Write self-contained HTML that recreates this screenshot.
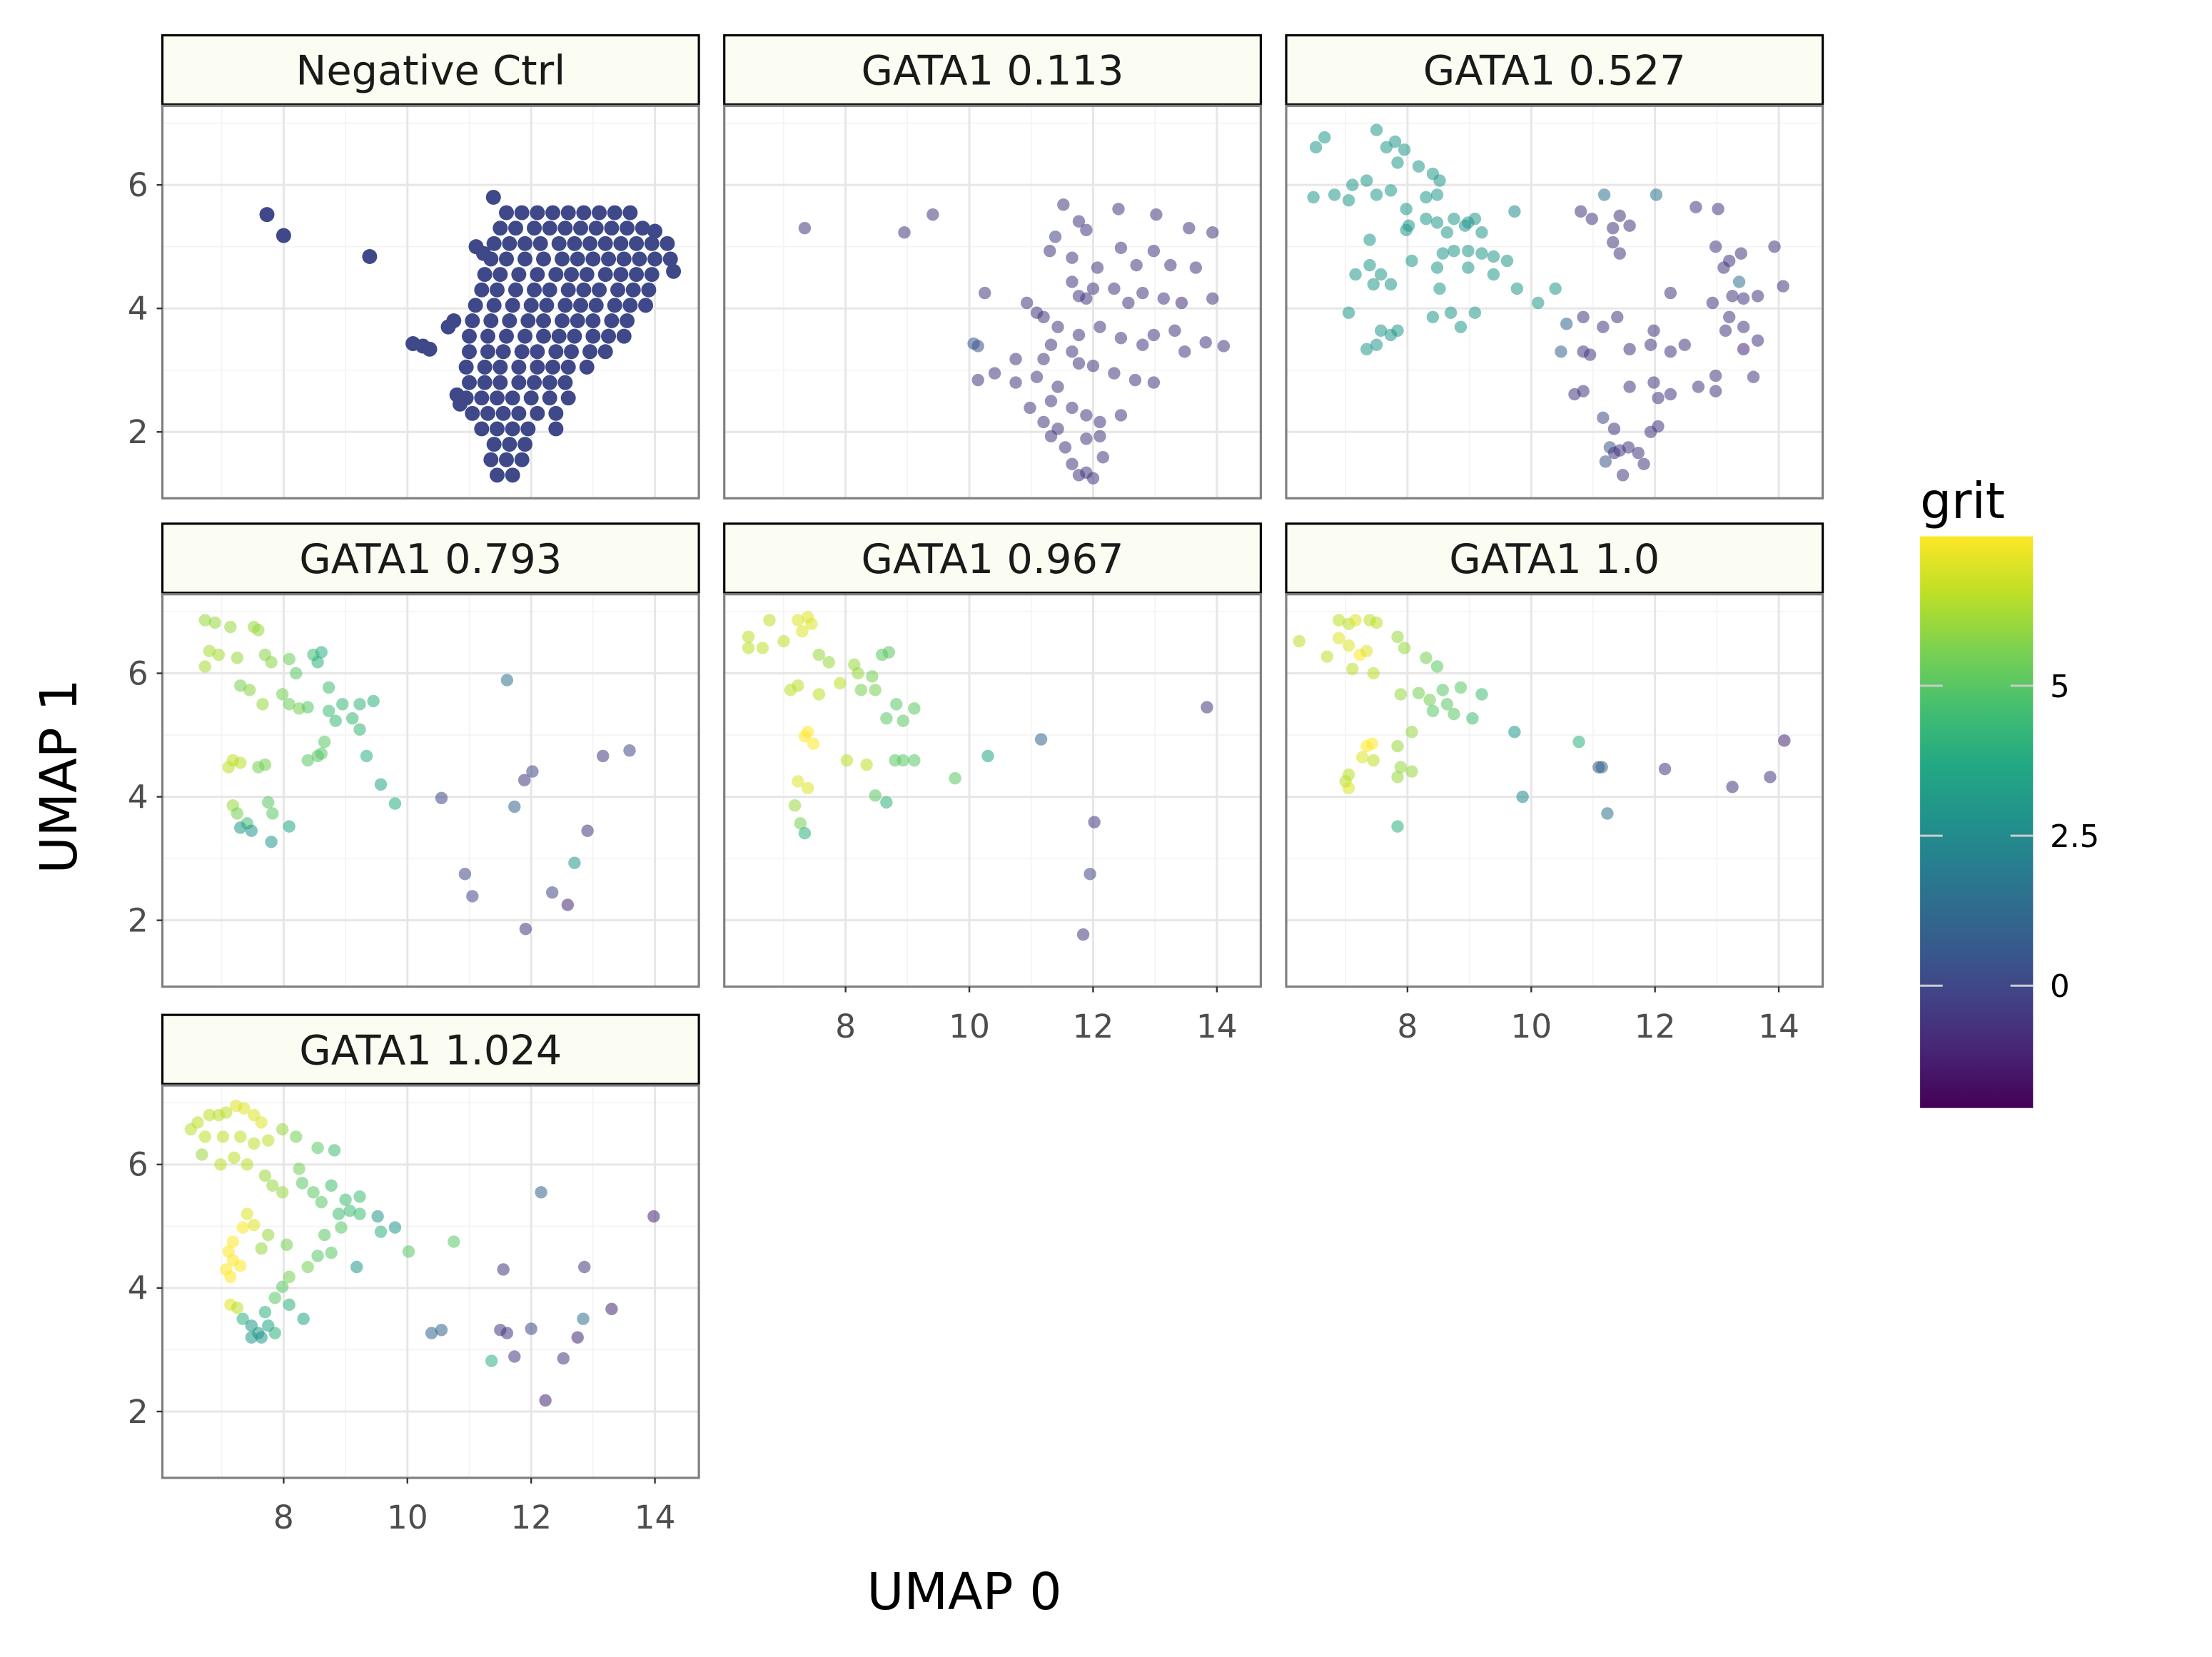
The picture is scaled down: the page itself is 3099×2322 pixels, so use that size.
<!DOCTYPE html>
<html><head><meta charset="utf-8"><style>
html,body{margin:0;padding:0;background:#fff}
svg{display:block;font-family:"DejaVu Sans","Liberation Sans",sans-serif}
</style></head><body>
<svg id="chart" width="3099" height="2322" xmlns="http://www.w3.org/2000/svg">
<defs>
<linearGradient id="vir" x1="0" y1="1" x2="0" y2="0">
<stop offset="0" stop-color="#440154"/><stop offset="0.1" stop-color="#482475"/><stop offset="0.2" stop-color="#414487"/><stop offset="0.3" stop-color="#355f8d"/><stop offset="0.4" stop-color="#2a788e"/><stop offset="0.5" stop-color="#21918c"/><stop offset="0.6" stop-color="#22a884"/><stop offset="0.7" stop-color="#44bf70"/><stop offset="0.8" stop-color="#7ad151"/><stop offset="0.9" stop-color="#bddf26"/><stop offset="1" stop-color="#fde725"/>
</linearGradient>
</defs>
<g id="panels"></g>
<g id="static"></g>
</svg>
<script>
const panelTitles = ["Negative Ctrl","GATA1 0.113","GATA1 0.527","GATA1 0.793","GATA1 0.967","GATA1 1.0","GATA1 1.024"];
const xTicks = [8,10,12,14];
const yTicks = [2,4,6];
const gritTicks = [0,2.5,5];
const gritTickLabels = ["0","2.5","5"];

const negCtrl = [[7.73,5.52,0],[8.00,5.18,0],[9.39,4.84,0],[10.09,3.43,0],[10.25,3.39,0],[10.36,3.34,0],[10.66,3.70,0],[10.75,3.80,0],[11.39,5.80,0],[11.11,5.00,0],[11.23,4.89,0],
[11.6,5.55,0],[11.85,5.55,0],[12.1,5.55,0],[12.35,5.55,0],[12.6,5.55,0],[12.85,5.55,0],[13.1,5.55,0],[13.35,5.55,0],[13.6,5.55,0],
[11.5,5.3,0],[11.75,5.3,0],[12.05,5.3,0],[12.3,5.3,0],[12.55,5.3,0],[12.8,5.3,0],[13.05,5.3,0],[13.3,5.3,0],[13.55,5.3,0],[13.8,5.3,0],[14.0,5.25,0],
[11.4,5.05,0],[11.65,5.05,0],[11.9,5.05,0],[12.15,5.05,0],[12.45,5.05,0],[12.7,5.05,0],[12.95,5.05,0],[13.2,5.05,0],[13.45,5.05,0],[13.7,5.05,0],[13.95,5.05,0],[14.2,5.05,0],
[11.35,4.8,0],[11.6,4.8,0],[11.9,4.8,0],[12.2,4.8,0],[12.5,4.8,0],[12.75,4.8,0],[13.0,4.8,0],[13.25,4.8,0],[13.5,4.8,0],[13.75,4.8,0],[14.0,4.8,0],[14.25,4.8,0],
[11.25,4.55,0],[11.5,4.55,0],[11.8,4.55,0],[12.1,4.55,0],[12.4,4.55,0],[12.65,4.55,0],[12.9,4.55,0],[13.2,4.55,0],[13.45,4.55,0],[13.7,4.55,0],[13.95,4.55,0],[14.3,4.6,0],
[11.2,4.3,0],[11.45,4.3,0],[11.75,4.3,0],[12.05,4.3,0],[12.3,4.3,0],[12.6,4.3,0],[12.85,4.3,0],[13.1,4.3,0],[13.4,4.3,0],[13.65,4.3,0],[13.9,4.3,0],
[11.1,4.05,0],[11.4,4.05,0],[11.7,4.05,0],[12.0,4.05,0],[12.25,4.05,0],[12.55,4.05,0],[12.8,4.05,0],[13.05,4.05,0],[13.35,4.05,0],[13.6,4.05,0],[13.85,4.05,0],
[11.05,3.8,0],[11.35,3.8,0],[11.65,3.8,0],[11.95,3.8,0],[12.2,3.8,0],[12.5,3.8,0],[12.75,3.8,0],[13.0,3.8,0],[13.3,3.8,0],[13.55,3.8,0],
[11.0,3.55,0],[11.3,3.55,0],[11.6,3.55,0],[11.9,3.55,0],[12.2,3.55,0],[12.45,3.55,0],[12.7,3.55,0],[13.0,3.55,0],[13.25,3.55,0],[13.5,3.55,0],
[11.0,3.3,0],[11.3,3.3,0],[11.55,3.3,0],[11.85,3.3,0],[12.1,3.3,0],[12.4,3.3,0],[12.65,3.3,0],[12.95,3.3,0],[13.2,3.3,0],
[10.95,3.05,0],[11.25,3.05,0],[11.5,3.05,0],[11.8,3.05,0],[12.1,3.05,0],[12.35,3.05,0],[12.6,3.05,0],[12.9,3.05,0],
[11.0,2.8,0],[11.25,2.8,0],[11.5,2.8,0],[11.8,2.8,0],[12.05,2.8,0],[12.3,2.8,0],[12.55,2.8,0],
[10.8,2.6,0],[10.95,2.55,0],[11.2,2.55,0],[11.45,2.55,0],[11.7,2.55,0],[12.0,2.55,0],[12.3,2.55,0],[12.6,2.55,0],
[10.85,2.45,0],[11.05,2.3,0],[11.3,2.3,0],[11.55,2.3,0],[11.8,2.3,0],[12.1,2.3,0],[12.4,2.3,0],
[11.2,2.05,0],[11.45,2.05,0],[11.7,2.05,0],[11.95,2.05,0],[12.4,2.05,0],
[11.4,1.8,0],[11.65,1.8,0],[11.9,1.8,0],[11.35,1.55,0],[11.6,1.55,0],[11.85,1.55,0],[11.45,1.3,0],[11.7,1.3,0]];

const gata0113 = [[7.34,5.30,-0.5],[8.95,5.23,-0.5],[9.41,5.52,-0.5],[10.07,3.43,0.5],[10.14,3.39,0.3],[10.25,4.25,-0.5],[11.52,5.68,-0.5],[11.39,5.16,-0.2],[11.77,5.41,-0.5],[11.89,5.27,-0.5],[12.41,5.61,-0.5],[13.02,5.52,-0.5],[13.55,5.30,-0.5],[13.93,5.23,-0.5],[11.30,4.93,-0.5],[11.66,4.82,-0.5],[12.07,4.66,-0.5],[12.45,4.98,-0.5],[12.98,4.93,-0.5],[12.70,4.70,-0.5],[13.25,4.70,-0.5],[13.66,4.66,-0.5],[11.66,4.43,-0.5],[12.00,4.32,-0.5],[10.93,4.09,-0.5],[11.09,3.93,-0.5],[11.20,3.86,-0.5],[11.77,4.20,-0.5],[11.89,4.16,-0.5],[12.34,4.32,-0.5],[12.57,4.09,-0.5],[12.80,4.25,-0.5],[13.14,4.16,-0.5],[13.43,4.09,-0.8],[13.93,4.16,-0.5],[11.32,3.41,-0.5],[11.43,3.70,-0.5],[11.77,3.57,-0.5],[12.11,3.70,-0.5],[12.45,3.52,-0.5],[12.80,3.41,-0.5],[12.98,3.57,-0.5],[13.32,3.64,-0.5],[13.82,3.45,-0.5],[14.11,3.39,-0.5],[10.14,2.84,-0.5],[10.75,2.80,-0.5],[11.09,2.89,-0.5],[11.43,2.73,-0.5],[11.77,3.11,-0.5],[12.00,3.07,-0.5],[12.34,2.95,-0.5],[12.68,2.84,-0.5],[12.98,2.80,-0.5],[11.32,2.50,-0.5],[11.66,2.39,-0.5],[11.89,2.27,-0.5],[12.11,2.16,-0.5],[12.45,2.27,-0.5],[10.98,2.39,-0.5],[11.20,2.16,-0.5],[11.43,2.05,-0.5],[11.89,1.89,-0.5],[12.11,1.93,-0.5],[11.32,1.93,-0.5],[11.55,1.75,-0.5],[11.66,1.48,-0.5],[11.77,1.30,-0.5],[11.89,1.34,-0.5],[12.00,1.25,-0.5],[12.16,1.59,-0.5],[10.75,3.18,-0.5],[10.41,2.95,-0.5],[13.48,3.30,-0.5],[11.66,3.30,-0.5],[11.20,3.18,-0.5]];

const gata0527 = [[6.52,6.61,3],[6.66,6.77,3],[7.50,6.89,3],[7.66,6.61,3],[7.80,6.70,3],[7.95,6.57,3],[7.84,6.36,3],[8.18,6.30,3],[8.41,6.18,3],[8.52,6.07,3],[8.48,5.84,3],[8.30,5.80,3],[7.11,6.00,3],[7.34,6.07,3],[6.48,5.80,3],[6.82,5.84,3],[7.05,5.75,3],[7.50,5.84,3],[7.73,5.91,3],[7.98,5.61,3],[8.02,5.34,3],[7.98,5.27,3],[8.30,5.45,3],[8.48,5.39,3],[8.75,5.45,3],[8.93,5.34,3],[9.09,5.45,3],[8.98,5.39,3],[9.20,5.23,3],[8.64,5.23,3],[7.39,5.11,3],[7.16,4.55,3],[7.39,4.70,3],[7.57,4.55,3],[7.45,4.39,3],[7.73,4.39,3],[8.07,4.77,3],[8.48,4.66,3],[8.57,4.89,3],[8.75,4.93,3],[8.98,4.93,3],[9.20,4.89,3],[9.39,4.84,3],[9.61,4.77,3],[8.98,4.66,3],[9.39,4.55,3],[9.77,4.32,3],[10.11,4.09,3],[10.39,4.32,3],[8.52,4.32,3],[8.41,3.86,3],[8.70,3.93,3],[8.86,3.70,3],[9.09,3.93,3],[7.05,3.93,3],[7.57,3.64,3],[7.84,3.64,3],[7.73,3.57,3],[7.34,3.34,3],[7.50,3.41,3],[9.73,5.57,2.5],
[11.18,5.84,1.5],[12.02,5.84,1.5],[10.80,5.57,-0.5],[10.98,5.45,-0.5],[11.32,5.30,-0.5],[11.59,5.34,-0.5],[12.66,5.64,-0.5],[13.02,5.61,-0.5],[11.43,4.89,-0.5],[11.32,5.07,-0.5],[12.98,5.00,-0.5],[13.20,4.77,-0.5],[13.39,4.89,-0.5],[13.93,5.00,-0.5],[13.11,4.66,-0.5],[10.57,3.75,1],[10.84,3.86,-0.5],[11.16,3.70,-0.5],[11.39,3.86,-0.5],[12.25,4.25,-0.5],[12.93,4.09,-0.5],[13.25,4.20,-0.5],[13.43,4.16,-0.5],[13.66,4.20,-0.5],[14.07,4.36,-0.5],[13.36,4.43,1.5],[13.20,3.86,-0.5],[13.14,3.64,-0.5],[13.43,3.70,-0.5],[13.66,3.48,-0.5],[13.43,3.34,-1],[11.98,3.64,-0.5],[11.93,3.41,-0.5],[11.59,3.34,-0.5],[12.25,3.30,-0.5],[12.48,3.41,-0.5],[10.48,3.30,1],[10.84,3.30,-0.5],[10.95,3.25,-0.5],[10.70,2.61,-0.5],[10.84,2.66,-0.5],[11.59,2.73,-0.5],[11.98,2.80,-0.5],[12.05,2.55,-0.5],[12.25,2.61,-0.5],[12.70,2.73,-0.5],[12.98,2.91,-0.5],[12.98,2.66,-0.5],[13.59,2.89,-0.5],[11.16,2.23,0],[11.34,2.05,-0.5],[11.93,2.00,-0.5],[12.05,2.09,-0.5],[11.27,1.75,0.5],[11.34,1.66,-0.5],[11.43,1.70,-0.5],[11.57,1.75,-0.5],[11.73,1.66,-0.5],[11.20,1.52,0.5],[11.48,1.30,-0.5],[11.82,1.48,-0.5],[11.43,5.50,-0.5]];

const gata0793 = [[6.73,6.86,6],[6.89,6.82,6],[7.14,6.75,6],[7.52,6.75,6],[7.59,6.70,6],[6.80,6.36,6.2],[6.95,6.30,6.2],[6.73,6.11,6.2],[7.25,6.25,6],[7.70,6.30,5.8],[7.80,6.18,5.8],[8.09,6.23,5.3],[8.20,6.00,5],[8.48,6.30,4.5],[8.61,6.34,4],[8.55,6.18,4],[7.30,5.80,5.5],[7.45,5.73,5.8],[7.66,5.50,6],[7.98,5.66,5.5],[8.09,5.50,5.3],[8.25,5.43,5.5],[8.39,5.45,5],[8.73,5.77,4.5],[8.73,5.39,4.5],[8.95,5.50,4.3],[8.84,5.23,4.3],[9.23,5.50,4.2],[9.45,5.55,4],[9.11,5.27,4.3],[9.23,5.09,4.2],[9.34,4.66,4],[9.57,4.20,3.5],[9.80,3.89,3.8],[8.39,4.59,5],[8.55,4.66,5],[8.66,4.89,5],[8.61,4.70,5],[7.18,4.59,6.5],[7.11,4.48,6.5],[7.30,4.55,6.5],[7.59,4.48,5.5],[7.70,4.52,5.5],[7.18,3.86,6],[7.25,3.73,5.5],[7.41,3.57,4.5],[7.30,3.50,3],[7.48,3.45,3],[7.75,3.91,5],[7.82,3.73,5],[8.09,3.52,3.5],[7.80,3.27,3],[10.55,3.98,0],[11.61,5.89,1.5],[11.73,3.84,1],[12.02,4.41,0],[11.89,4.27,-0.5],[10.93,2.75,0],[11.05,2.39,0],[13.16,4.66,-0.5],[13.59,4.75,0],[12.91,3.45,-0.5],[12.34,2.45,0],[12.59,2.25,-1],[12.70,2.93,3],[11.91,1.86,-0.5]];

const gata0967 = [[6.77,6.86,6.5],[6.43,6.59,6.5],[6.66,6.41,6.5],[7.00,6.52,6.5],[7.23,6.86,7],[7.39,6.91,7],[7.45,6.80,7],[7.30,6.68,7],[6.43,6.41,6.5],[7.57,6.30,6],[7.73,6.18,6],[8.14,6.14,6],[8.20,6.00,6],[8.43,5.95,5.5],[8.59,6.30,5],[8.70,6.34,5],[7.11,5.73,6.5],[7.23,5.80,6.5],[7.57,5.66,6.5],[7.91,5.84,6.5],[8.25,5.73,5.5],[8.48,5.73,5.5],[8.82,5.50,5],[8.66,5.27,5],[8.93,5.23,5],[9.11,5.43,5],[7.39,5.05,7.5],[7.48,4.86,7.5],[7.34,4.98,7.5],[8.02,4.59,6.5],[8.34,4.52,6.5],[8.80,4.59,5],[8.93,4.59,5],[9.11,4.59,5],[8.48,4.02,5],[8.66,3.91,4],[7.23,4.25,7],[7.39,4.14,7],[7.18,3.86,6],[7.27,3.57,5.5],[7.34,3.41,4],[9.77,4.30,5],[10.30,4.66,3.5],[11.16,4.93,1],[13.84,5.45,-0.5],[12.02,3.59,-0.5],[11.95,2.75,0],[11.84,1.77,-0.5]];

const gata10 = [[6.25,6.52,6.5],[6.89,6.86,6.5],[7.05,6.80,6.5],[7.16,6.86,7],[7.39,6.86,6.5],[7.50,6.82,6.5],[6.89,6.57,7],[7.05,6.45,7],[7.23,6.30,7.5],[7.34,6.36,7],[6.70,6.27,6.5],[7.11,6.07,6.5],[7.45,6.00,6.5],[7.84,6.59,6],[7.95,6.41,6],[8.30,6.25,5.5],[8.48,6.11,5],[7.89,5.66,6],[8.18,5.68,5.5],[8.36,5.57,5.5],[8.57,5.73,5],[8.86,5.77,5],[9.20,5.66,4.5],[8.41,5.39,5],[8.64,5.50,5],[8.75,5.34,5],[9.05,5.27,4.5],[8.07,5.05,6],[7.84,4.82,6],[9.73,5.05,3],[10.77,4.89,4],[7.34,4.82,7.5],[7.43,4.86,7.5],[7.27,4.64,7],[7.45,4.59,6.5],[7.05,4.36,6.5],[7.00,4.25,6.5],[7.05,4.14,7],[7.89,4.48,6],[8.07,4.41,6],[7.84,4.32,6],[7.84,3.52,4],[9.86,4.00,2.5],[11.09,4.48,0.5],[11.14,4.48,1],[11.23,3.73,1.5],[12.16,4.45,-0.5],[13.25,4.16,-0.5],[13.86,4.32,-0.5],[14.09,4.91,-1]];

const gata1024 = [[6.50,6.57,6.5],[6.61,6.68,6.5],[6.80,6.80,6.5],[6.95,6.80,6.5],[7.07,6.84,6.5],[7.23,6.95,7],[7.36,6.91,7],[7.52,6.80,7],[7.64,6.68,7],[6.73,6.45,6.5],[7.02,6.45,6.5],[7.30,6.45,6.5],[7.52,6.34,6.5],[7.75,6.39,6.5],[7.98,6.57,6],[8.20,6.45,5.5],[8.55,6.27,5],[8.82,6.23,4.5],[6.68,6.16,6],[6.98,6.00,6.5],[7.20,6.11,6.5],[7.41,6.00,6.5],[7.70,5.82,6],[7.82,5.66,6],[7.98,5.55,6],[8.25,5.93,5.5],[8.30,5.70,5],[8.48,5.55,5],[8.61,5.39,5],[8.77,5.66,4.5],[9.00,5.43,4.5],[9.23,5.48,4.5],[9.52,5.16,3],[9.80,4.98,3],[9.57,4.91,4],[10.02,4.59,5],[10.75,4.75,5],[8.89,5.20,4.5],[9.07,5.25,4.5],[9.23,5.20,4.5],[8.93,4.98,5],[8.66,4.86,5],[8.77,4.57,5],[8.55,4.52,5],[8.39,4.34,5.5],[8.05,4.70,5.5],[7.75,4.86,6],[7.64,4.64,6],[9.18,4.34,3],[7.41,5.20,7],[7.52,5.02,7],[7.34,4.98,7.5],[7.18,4.75,8],[7.11,4.59,8],[7.18,4.45,8],[7.30,4.36,7.5],[7.07,4.30,7.5],[7.14,4.18,7.5],[8.09,4.18,5.5],[7.98,4.02,5],[7.86,3.84,5],[8.09,3.73,4],[7.14,3.73,7],[7.25,3.68,6.5],[7.34,3.50,4],[7.48,3.39,3],[7.59,3.27,3],[7.48,3.20,3],[7.64,3.20,3],[7.75,3.39,3.5],[7.70,3.61,4],[7.86,3.27,4],[8.32,3.50,3.5],[10.39,3.27,1],[10.55,3.32,1],[11.36,2.82,4],[11.55,4.30,-0.5],[11.50,3.32,-0.5],[11.61,3.27,-0.5],[11.73,2.89,-0.5],[12.00,3.34,0],[12.16,5.55,1],[12.23,2.18,-1],[12.52,2.86,-0.5],[12.75,3.20,-1],[12.84,3.50,1.5],[12.86,4.34,-0.5],[13.30,3.66,-1],[13.98,5.16,-1]];

const panelData = [negCtrl,gata0113,gata0527,gata0793,gata0967,gata10,gata1024];

const S = 1.978;
const NS = "http://www.w3.org/2000/svg";
const colLeft = [115,513,911], rowTop = [75,421,769], PW = 380, PH = 278;
const XMIN = 6.04, YMAX = 7.28, KX = 43.83, KY = 43.75;
const GMIN = -2.04, GMAX = 7.49;
const vstops = ["#440154","#482475","#414487","#355f8d","#2a788e","#21918c","#22a884","#44bf70","#7ad151","#bddf26","#fde725"];
function hex(h){return [parseInt(h.substr(1,2),16),parseInt(h.substr(3,2),16),parseInt(h.substr(5,2),16)];}
function viridis(g){
  let t=(g-GMIN)/(GMAX-GMIN); t=Math.max(0,Math.min(1,t));
  const s=t*10, i=Math.min(9,Math.floor(s)), f=s-i;
  const a=hex(vstops[i]), b=hex(vstops[i+1]);
  return "rgb("+a.map((v,k)=>Math.round(v+(b[k]-v)*f)).join(",")+")";
}
const SCALED = {x:1,y:1,x1:1,x2:1,y1:1,y2:1,cx:1,cy:1,r:1,width:1,height:1,"font-size":1,"stroke-width":1};
function mk(tag,attrs,parent){const e=document.createElementNS(NS,tag);for(const k in attrs){e.setAttribute(k,SCALED[k]?attrs[k]*S:attrs[k]);}parent.appendChild(e);return e;}
const root=document.getElementById("panels");
const stat=document.getElementById("static");

panelTitles.forEach((title,i)=>{
  const col=i%3,row=Math.floor(i/3);
  const L=colLeft[col],T=rowTop[row];
  const sx=x=>L+(x-XMIN)*KX, sy=y=>T+(YMAX-y)*KY;
  const g=mk("g",{},root);
  
  
  const strip=mk("rect",{x:L,y:T-50,width:PW,height:49,fill:"#fcfdf2",stroke:"#000","stroke-width":1.6},g);
  
  
  const st=mk("text",{x:L+PW/2,y:T-15,"font-size":29,"text-anchor":"middle",fill:"#1a1a1a"},g);
  st.textContent=title;
  
  
  mk("rect",{x:L,y:T,width:PW,height:PH,fill:"#fff"},g);
  [7,9,11,13].forEach(v=>mk("line",{x1:sx(v),x2:sx(v),y1:T,y2:T+PH,stroke:"#f3f3f3","stroke-width":0.8},g));
  [3,5,7].forEach(v=>mk("line",{x1:L,x2:L+PW,y1:sy(v),y2:sy(v),stroke:"#f3f3f3","stroke-width":0.8},g));
  xTicks.forEach(v=>mk("line",{x1:sx(v),x2:sx(v),y1:T,y2:T+PH,stroke:"#e6e6e6","stroke-width":1.5},g));
  yTicks.forEach(v=>mk("line",{x1:L,x2:L+PW,y1:sy(v),y2:sy(v),stroke:"#e6e6e6","stroke-width":1.5},g));
  const neg=(i===0);
  panelData[i].forEach(p=>{
    const c=mk("circle",{cx:sx(p[0]),cy:sy(p[1]),r:neg?5.3:4.4,fill:viridis(p[2]),"fill-opacity":neg?1:0.55},g);
    
    
  });
  const br=mk("rect",{x:L,y:T,width:PW,height:PH,fill:"none",stroke:"#7f7f7f","stroke-width":1.6},g);
  
  
  if(col===0){
    yTicks.forEach(v=>{
      mk("line",{x1:L-4,x2:L,y1:sy(v),y2:sy(v),stroke:"#333","stroke-width":1.2},g);
      const t=mk("text",{x:L-10,y:sy(v)+8,"font-size":23,"text-anchor":"end",fill:"#4d4d4d"},g);
      t.textContent=String(v);
      
      
    });
  }
  const bottom=(row===2)||(row===1&&col>0);
  if(bottom){
    xTicks.forEach(v=>{
      mk("line",{x1:sx(v),x2:sx(v),y1:T+PH,y2:T+PH+4,stroke:"#333","stroke-width":1.2},g);
      const t=mk("text",{x:sx(v),y:T+PH+36,"font-size":23,"text-anchor":"middle",fill:"#4d4d4d"},g);
      t.textContent=String(v);
      
      
    });
  }
});

const xt=mk("text",{x:683,y:1140,"font-size":36,"text-anchor":"middle",fill:"#000"},stat);
xt.textContent="UMAP 0";


const yt=mk("text",{x:0,y:0,"font-size":36,"text-anchor":"middle",fill:"#000",transform:"translate("+(54*S)+","+(550*S)+") rotate(-90)"},stat);
yt.textContent="UMAP 1";


const lg=mk("g",{},stat);


const lt=mk("text",{x:1360,y:367,"font-size":35,fill:"#000"},lg);
lt.textContent="grit";


const cbr=mk("rect",{x:1360,y:380,width:80,height:405,fill:"url(#vir)"},lg);


gritTicks.forEach((v,k)=>{
  const y=380+(GMAX-v)/(GMAX-GMIN)*405;
  mk("line",{x1:1360,x2:1376,y1:y,y2:y,stroke:"#cccccc","stroke-width":1.5},lg);
  mk("line",{x1:1424,x2:1440,y1:y,y2:y,stroke:"#cccccc","stroke-width":1.5},lg);
  const t=mk("text",{x:1452,y:y+8,"font-size":22,fill:"#000"},lg);
  t.textContent=gritTickLabels[k];
  
  
});
</script>
</body></html>
